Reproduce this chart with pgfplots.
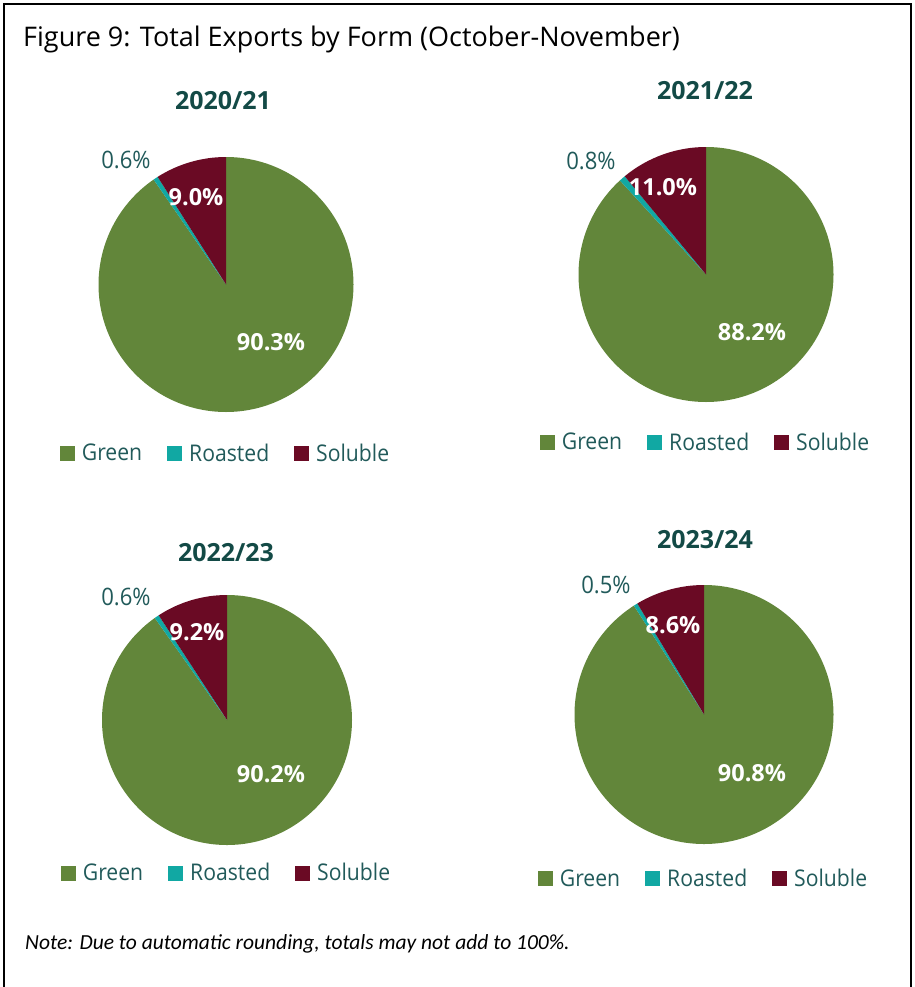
\documentclass[border=0pt]{standalone}
\usepackage{fontspec}
\setmainfont{Open Sans}[FakeStretch=0.92]
\newfontfamily\wideopen{Open Sans}
\newfontfamily\notefont{Carlito}
\usepackage{pgfplots}
\pgfplotsset{compat=1.18}
\usepackage{pgfplotstable}

\definecolor{cGreen}{HTML}{62863A}
\definecolor{cRoast}{HTML}{11A8A3}
\definecolor{cSol}{HTML}{6A0A24}
\definecolor{cText}{HTML}{215A5A}
\definecolor{cTitle}{HTML}{134A46}

% shares by form, one table per marketing year
\pgfplotstableread{
form value
Green 90.3
Roasted 0.6
Soluble 9.0
}\tabA
\pgfplotstableread{
form value
Green 88.2
Roasted 0.8
Soluble 11.0
}\tabB
\pgfplotstableread{
form value
Green 90.2
Roasted 0.6
Soluble 9.2
}\tabC
\pgfplotstableread{
form value
Green 90.8
Roasted 0.5
Soluble 8.6
}\tabD

% slice boundaries, clockwise from 12 o'clock
\newcommand{\pieangles}[2]{%
  \pgfplotstablegetelem{0}{value}\of{#1}\let\va\pgfplotsretval
  \pgfplotstablegetelem{1}{value}\of{#1}\let\vb\pgfplotsretval
  \pgfplotstablegetelem{2}{value}\of{#1}\let\vc\pgfplotsretval
  \pgfmathsetmacro\tot{\va+\vb+\vc}%
  \pgfmathsetmacro\fa{\va/\tot}%
  \pgfmathsetmacro\fb{(\va+\vb)/\tot}%
  \pgfmathsetmacro\angA{90-360*\fa}%
  \pgfmathsetmacro\angB{90-360*\fb}%
  \expandafter\xdef\csname #2a\endcsname{\angA}%
  \expandafter\xdef\csname #2b\endcsname{\angB}%
}
\pieangles{\tabA}{pA}
\pieangles{\tabB}{pB}
\pieangles{\tabC}{pC}
\pieangles{\tabD}{pD}

\newcommand{\drawpie}[2]{%
  \fill[cGreen] (axis cs:0,0) -- +(90:#2) arc[start angle=90, end angle=\csname #1a\endcsname, radius=#2] -- cycle;
  \fill[cRoast] (axis cs:0,0) -- +(\csname #1a\endcsname:#2) arc[start angle=\csname #1a\endcsname, end angle=\csname #1b\endcsname, radius=#2] -- cycle;
  \fill[cSol] (axis cs:0,0) -- +(\csname #1b\endcsname:#2) arc[start angle=\csname #1b\endcsname, end angle=-270, radius=#2] -- cycle;
}

\pgfplotsset{
  pieaxis/.style={
    scale only axis, hide axis, anchor=center,
    xmin=-1, xmax=1, ymin=-1, ymax=1,
    legend columns=3,
    legend image code/.code={\fill[##1] (0pt,-7.5pt) rectangle (15pt,7.5pt);},
    legend style={draw=none, fill=none, anchor=center,
      font=\fontsize{23}{27}\selectfont, text=cText,
      nodes={inner xsep=3pt, inner ysep=1pt},
      /tikz/every odd column/.append style={column sep=4pt},
      /tikz/every even column/.append style={column sep=22pt}},
  },
}

\newcommand{\pielegend}{%
  \addlegendimage{fill=cGreen, draw=none}\addlegendentry{Green}
  \addlegendimage{fill=cRoast, draw=none}\addlegendentry{Roasted}
  \addlegendimage{fill=cSol, draw=none}\addlegendentry{Soluble}
}

\begin{document}
\begin{tikzpicture}[x=1pt, y=1pt]
\path[use as bounding box] (0,0) rectangle (914,-987);
\draw[line width=2pt] (4,-990) -- (4,-4) -- (911,-4) -- (911,-990);

\node[anchor=base west, inner sep=0pt, font=\wideopen\fontsize{27}{31}\selectfont] at (23,-47)
  {Figure 9: Total Exports by Form (October-November)};

% 2020/21
\begin{axis}[pieaxis, at={(226pt,-284.5pt)}, width=255pt, height=255pt,
  legend style={at={(0.5,-0.161)}}]
\pielegend
\drawpie{pA}{127.5pt}
\end{axis}
% 2021/22
\begin{axis}[pieaxis, at={(706pt,-274.5pt)}, width=255pt, height=255pt,
  legend style={at={(0.5,-0.157)}}]
\pielegend
\drawpie{pB}{127.5pt}
\end{axis}
% 2022/23
\begin{axis}[pieaxis, at={(227pt,-720pt)}, width=250pt, height=250pt,
  legend style={at={(0.5,-0.112)}}]
\pielegend
\drawpie{pC}{125pt}
\end{axis}
% 2023/24
\begin{axis}[pieaxis, at={(704pt,-714.5pt)}, width=259pt, height=259pt,
  legend style={at={(0.5,-0.135)}}]
\pielegend
\drawpie{pD}{129.5pt}
\end{axis}

\begin{scope}[every node/.style={font=\wideopen\bfseries\fontsize{25}{29}\selectfont, text=cTitle}]
\node at (223,-101) {2020/21};
\node at (705,-91) {2021/22};
\node at (226,-553) {2022/23};
\node at (705,-540) {2023/24};
\end{scope}

\begin{scope}[every node/.style={font=\fontsize{24}{28}\selectfont, text=cText}]
\node at (126,-160) {0.6\%};
\node at (591,-161) {0.8\%};
\node at (126,-597) {0.6\%};
\node at (606,-585) {0.5\%};
\end{scope}

\begin{scope}[every node/.style={font=\wideopen\bfseries\fontsize{23.5}{27}\selectfont, text=white}]
\node at (196,-197) {9.0\%};
\node at (271,-342) {90.3\%};
\node at (663,-187) {11.0\%};
\node at (752,-332) {88.2\%};
\node at (197,-632) {9.2\%};
\node at (271,-774) {90.2\%};
\node at (673,-625) {8.6\%};
\node at (752,-773) {90.8\%};
\end{scope}

\node[anchor=base west, inner sep=0pt, font=\notefont\itshape\fontsize{21.5}{25}\selectfont] at (25,-949)
  {Note: Due to automatic rounding, totals may not add to 100\%.};
\end{tikzpicture}
\end{document}
